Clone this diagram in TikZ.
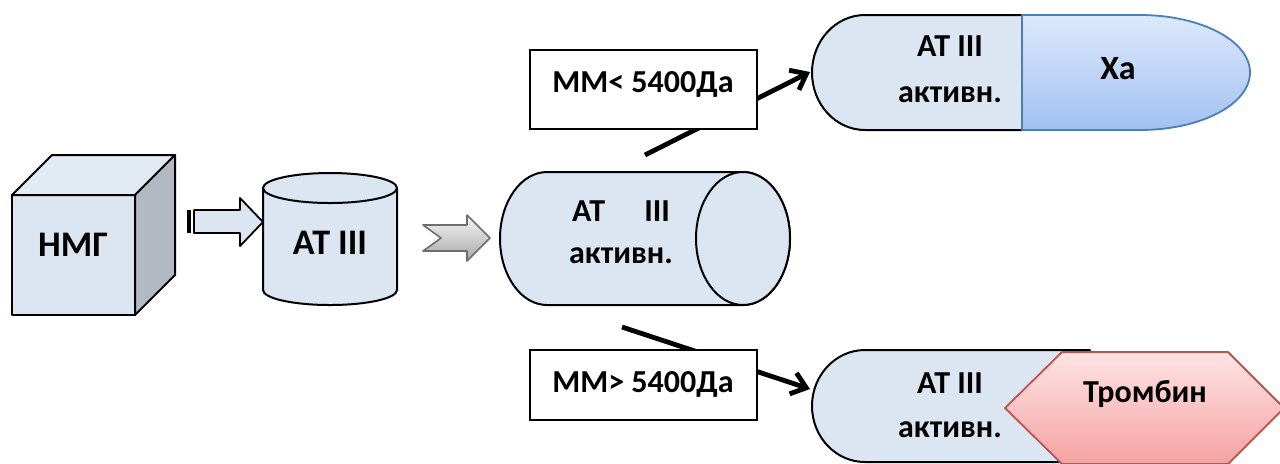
\documentclass[tikz,border=0pt]{standalone}
\usepackage{fontspec}
\setmainfont{Carlito}
\usetikzlibrary{arrows.meta}
\definecolor{lb}{HTML}{DCE6F2}
\definecolor{cubetop}{HTML}{E2EAF4}
\definecolor{cubeside}{HTML}{B3B9C3}
\definecolor{xatop}{HTML}{DDE9FC}
\definecolor{xabot}{HTML}{A2C0F0}
\definecolor{xaborder}{HTML}{4A7EBB}
\definecolor{hextop}{HTML}{FFE4E4}
\definecolor{hexbot}{HTML}{F4A2A2}
\definecolor{hexborder}{HTML}{C0504D}
\definecolor{chevtop}{HTML}{F5F5F5}
\definecolor{chevbot}{HTML}{A8A8A8}
\definecolor{chevborder}{HTML}{6E6E6E}
\begin{document}
\begin{tikzpicture}[x=0.5pt,y=-0.5pt,
  shapeline/.style={draw=black,line width=1pt,line join=round},
  txt/.style={font=\bfseries\fontsize{16}{19}\selectfont,inner sep=0pt,align=center},
  bigtxt/.style={font=\bfseries\fontsize{18}{21}\selectfont,inner sep=0pt,align=center},
  labelbox/.style={draw=black,line width=0.7pt,fill=white},
  conn/.style={line width=2.4pt,-{Straight Barb[length=7pt,width=11pt,line width=2.4pt]}}]
\useasboundingbox (0,0) rectangle (1280,463);

% ---- cube (НМГ)
\fill[lb] (12,195) rectangle (135,315);
\filldraw[shapeline,fill=cubetop] (12,195) -- (52,155) -- (175,155) -- (135,195) -- cycle;
\filldraw[shapeline,fill=cubeside] (135,195) -- (175,155) -- (175,275) -- (135,315) -- cycle;
\draw[shapeline] (12,195) rectangle (135,315);
\node[bigtxt] (nmg) at (73,245) {НМГ};

% ---- block arrow 1
\fill[black] (187,210) rectangle (191,233);
\filldraw[shapeline,fill=lb,line width=0.9pt] (194,210) -- (240,210) -- (240,198) -- (263,222) -- (240,246) -- (240,233) -- (194,233) -- cycle;

% ---- vertical cylinder (АТ III)
\filldraw[shapeline,fill=lb] (263,188) -- (263,290) .. controls (263,298.3) and (293,305) .. (330,305) .. controls (367,305) and (397,298.3) .. (397,290) -- (397,188) -- cycle;
\filldraw[shapeline,fill=lb] (330,188) ellipse [x radius=67, y radius=15];
\node[bigtxt] (at1) at (330,243) {АТ III};

% ---- chevron arrow 2
\draw[line width=0.8pt,draw=chevborder,top color=chevtop,bottom color=chevbot,line join=round] (423,225) -- (467,225) -- (467,215) -- (490,238) -- (467,261) -- (467,251) -- (423,251) -- (441,238) -- cycle;

% ---- horizontal cylinder (АТ III активн.)
\filldraw[shapeline,fill=lb] (547,172) -- (743,172) .. controls (769,172) and (790,201.8) .. (790,238.5) .. controls (790,275.2) and (769,305) .. (743,305) -- (547,305) .. controls (521,305) and (500,275.2) .. (500,238.5) .. controls (500,201.8) and (521,172) .. (547,172) -- cycle;
\filldraw[shapeline,fill=lb] (743,238.5) ellipse [x radius=47, y radius=66.5];
\node[txt] (at2a) at (621,211) {АТ\quad\ III};
\node[txt] (at2b) at (621,256) {активн.};

% ---- connector anchors
\coordinate (startTop) at (645,155);
\coordinate (capTopW) at (810,72);
\coordinate (startBot) at (622,327);
\coordinate (capBotW) at (810,389);

% ---- connectors
\draw[conn] (startTop) -- (capTopW);
\draw[conn] (startBot) -- (capBotW);

% ---- label boxes
\node[labelbox,minimum width=113.5pt,minimum height=39.5pt,inner sep=0pt] (boxTop) at (643.5,89.5) {};
\node[txt] (lblTop) at (643,84) {ММ< 5400Да};
\node[labelbox,minimum width=113.5pt,minimum height=35pt,inner sep=0pt] (boxBot) at (643.5,385) {};
\node[txt] (lblBot) at (643,384) {ММ> 5400Да};

% ---- top capsule
\filldraw[shapeline,fill=lb] (1022,15) -- (865,15) .. controls (835.7,15) and (812,40.7) .. (812,72.5) .. controls (812,104.3) and (835.7,130) .. (865,130) -- (1022,130) -- cycle;
\draw[line width=0.9pt,draw=xaborder,top color=xatop,bottom color=xabot,line join=round] (1022,15) -- (1140,15) .. controls (1200.8,15) and (1250,40.7) .. (1250,72.5) .. controls (1250,104.3) and (1200.8,130) .. (1140,130) -- (1022,130) -- cycle;
\node[txt] (at3a) at (950,46) {АТ III};
\node[txt] (at3b) at (950,95) {активн.};
\node[txt,font=\bfseries\fontsize{17}{20}\selectfont] (xa) at (1118,69) {Ха};

% ---- bottom capsule
\filldraw[shapeline,fill=lb] (1090,350) -- (865,350) .. controls (835.7,350) and (812,375.1) .. (812,406) .. controls (812,436.9) and (835.7,462) .. (865,462) -- (1090,462) -- cycle;
\draw[line width=0.9pt,draw=hexborder,top color=hextop,bottom color=hexbot,line join=round] (1005,408) -- (1062,352) -- (1228,352) -- (1284,408) -- (1228,464) -- (1062,464) -- cycle;
\node[txt] (at4a) at (950,383) {АТ III};
\node[txt] (at4b) at (950,430) {активн.};
\node[txt] (thr) at (1145,394) {Тромбин};
\end{tikzpicture}
\end{document}
